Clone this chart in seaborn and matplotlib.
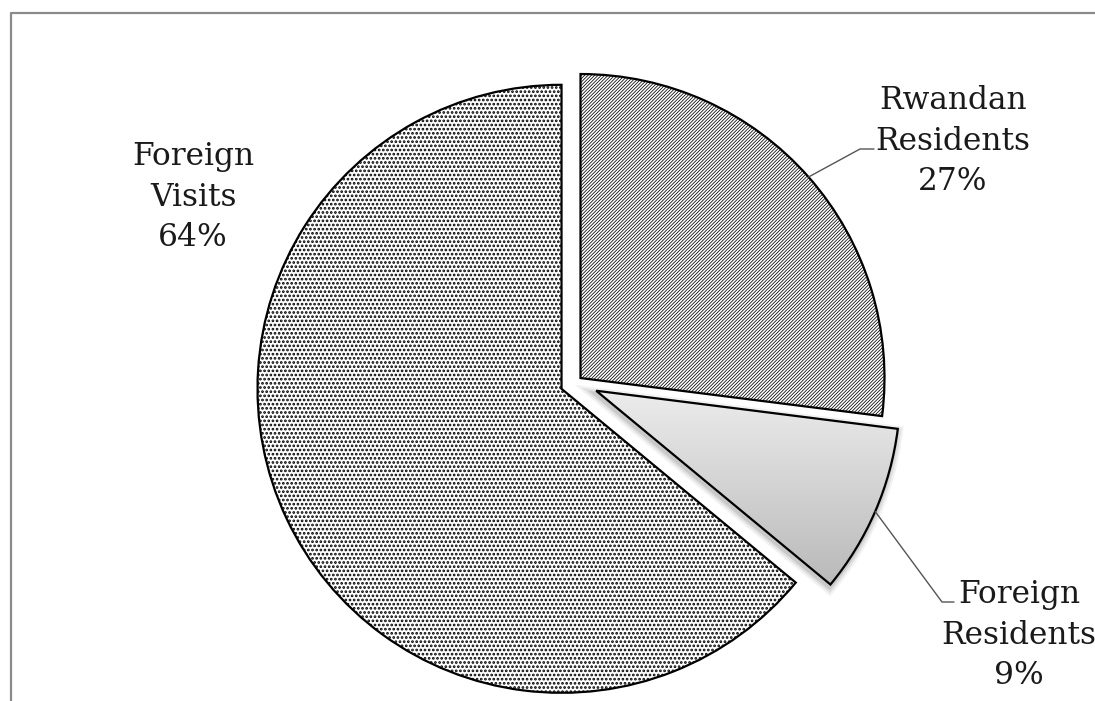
import numpy as np
import matplotlib
matplotlib.use("Agg")
import matplotlib.pyplot as plt
import seaborn as sns
from matplotlib.lines import Line2D
from matplotlib.patches import Wedge
from matplotlib.colors import LinearSegmentedColormap

# ---- data ----
categories = ["Rwandan\nResidents", "Foreign\nResidents", "Foreign\nVisits"]
shares = [27, 9, 64]

# ---- style ----
sns.set_theme(style="white")
plt.rcParams['font.family'] = ['DejaVu Serif']
plt.rcParams['hatch.linewidth'] = 0.55

W, H = 1095, 701
fig = plt.figure(figsize=(W / 100, H / 100), dpi=100)
fig.patch.set_facecolor('white')
ax = fig.add_axes([0, 0, 1, 1])

R = 304
center = (576, H - 382)
explode = [6, 22, 16]

wedges, _ = ax.pie(shares, radius=R, center=center, startangle=90,
                   counterclock=False, explode=explode,
                   wedgeprops=dict(edgecolor='black', linewidth=1.6,
                                   facecolor='white'))

# patterns
wedges[0].set_hatch('/' * 10)
dot_w = wedges[2]
dot_w.set_hatch('.' * 4)
if hasattr(dot_w, 'set_hatch_linewidth'):
    dot_w.set_hatch_linewidth(1.3)

# gradient fill for Foreign Residents
gw = wedges[1]
gw.set_facecolor('none')
gw.set_zorder(3)
ext = gw.get_path().get_extents()
for lw, al in [(9, 0.05), (6, 0.07), (3, 0.10)]:
    sh = Wedge((gw.center[0] - 1, gw.center[1] - 3), gw.r, gw.theta1, gw.theta2,
               facecolor='none', edgecolor='black', linewidth=lw, alpha=al,
               zorder=1.5)
    ax.add_patch(sh)
cmap = LinearSegmentedColormap.from_list('g', ['#b9b9b9', '#ececec'])
grad = np.linspace(0, 1, 256).reshape(-1, 1)
im = ax.imshow(grad, extent=[ext.x0, ext.x1, ext.y0, ext.y1], origin='lower',
               cmap=cmap, aspect='auto', zorder=2, interpolation='bilinear')
im.set_clip_path(gw)

ax.set_xlim(0, W)
ax.set_ylim(0, H)
ax.set_aspect('equal')
ax.axis('off')

# ---- labels with leader lines ----
def mid_point(w):
    th = np.deg2rad(0.5 * (w.theta1 + w.theta2))
    return w.center[0] + w.r * np.cos(th), w.center[1] + w.r * np.sin(th)

label_pos = [(953, H - 141), (1019, H - 635), (193, H - 197)]
leaders = [[(860, H - 149), (874, H - 149)],
           [(942, H - 602), (954, H - 602)],
           None]

for w, cat, val, pos, ld in zip(wedges, categories, shares, label_pos, leaders):
    ax.text(pos[0], pos[1], f"{cat}\n{val}%", ha='center', va='center',
            fontsize=22.5, color='#1a1a1a', linespacing=1.4, zorder=5)
    if ld is not None:
        mx, my = mid_point(w)
        xs = [mx] + [p[0] for p in ld]
        ys = [my] + [p[1] for p in ld]
        ax.plot(xs, ys, color='#555555', linewidth=1.0, zorder=4)

# ---- outer border (partly cropped) ----
fig.add_artist(Line2D([10.5 / W, 10.5 / W, 1.0], [0.0, 1 - 12.5 / H, 1 - 12.5 / H],
                      transform=fig.transFigure, color='#8a8a8a', linewidth=1.6))

fig.savefig('out.png', dpi=100, facecolor='white')
